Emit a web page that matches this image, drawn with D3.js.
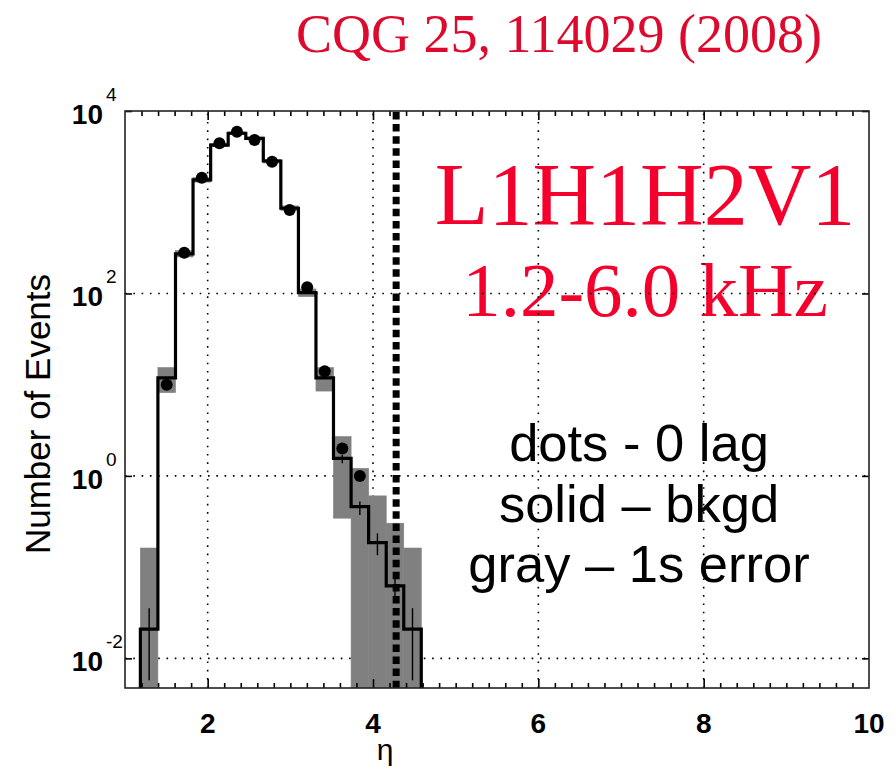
<!DOCTYPE html>
<html>
<head>
<meta charset="utf-8">
<script src="https://cdn.jsdelivr.net/npm/d3@7"></script>
<style>
    body { margin: 0; background: #fff; }
    svg { display: block; }
</style>
</head>
<body>
<div id="chart"></div>
<script>
// bin edges in eta (16 bins)
const binEdges = [1.186, 1.398, 1.611, 1.823, 2.036, 2.248, 2.461, 2.673, 2.885,
    3.098, 3.310, 3.522, 3.735, 3.947, 4.160, 4.372, 4.584];
// background estimate (solid line), events per bin
const background = [0.0209, 11.9, 271, 1754, 4236, 5702, 5023, 2831, 859, 102,
    11.9, 1.56, 0.461, 0.186, 0.0624, 0.0209];
// gray band: 1 sigma range of the background (0 = below the axis)
const bandLow = [0, 8.18, 251, 1660, 4074, 5495, 4842, 2692, 813, 92.3,
    8.51, 0.344, 0, 0, 0, 0];
const bandHigh = [0.162, 15.4, 295, 1862, 4416, 5888, 5188, 2951, 912, 112,
    15.4, 2.70, 1.21, 0.604, 0.303, 0.162];
// thin error bars on the background
const errLow = [0.00575, null, null, null, null, null, null, null, null, null,
    null, 1.38, 0.372, 0.135, 0.0479, 0.00575];
const errHigh = [0.0355, null, null, null, null, null, null, null, null, null,
    null, 1.70, 0.525, 0.234, 0.0794, 0.0355];
// zero lag events (dots)
const zeroLag = [null, 10, 280, 1860, 4430, 5930, 4810, 2780, 822, 117,
    14, 2, 1, null, null, null];
// threshold (dashed line)
const threshold = 4.28;

const xTicks = [2, 4, 6, 8, 10];
const yTicks = [1e-2, 1e0, 1e2, 1e4];
const yExponents = ['-2', '0', '2', '4'];

class EtaHistogram {
    constructor(element) {
        this.MARGIN = { TOP: 111, BOTTOM: 82, LEFT: 125, RIGHT: 27 };
        this.WIDTH = 896 - this.MARGIN.LEFT - this.MARGIN.RIGHT;
        this.HEIGHT = 770 - this.MARGIN.TOP - this.MARGIN.BOTTOM;

        this.root = d3.select(element)
            .append('svg')
            .attr('width', 896)
            .attr('height', 770);

        this.svg = this.root.append('g')
            .attr('transform', `translate(${this.MARGIN.LEFT}, ${this.MARGIN.TOP})`);

        this.x = d3.scaleLinear().domain([1, 10]).range([0, this.WIDTH]);
        this.y = d3.scaleLog().domain([Math.pow(10, -2.325), 1e4]).range([this.HEIGHT, 0]);

        this.svg.append('clipPath')
            .attr('id', 'plot-clip')
            .append('rect')
            .attr('width', this.WIDTH)
            .attr('height', this.HEIGHT);

        this.draw();
    }

    draw() {
        const x = this.x, y = this.y;
        const W = this.WIDTH, H = this.HEIGHT;
        const ymin = y.domain()[0];
        const yc = v => y(Math.max(v, ymin));
        const bins = d3.range(background.length);

        // title above the plot
        this.root.append('text')
            .attr('x', 559)
            .attr('y', 52)
            .attr('text-anchor', 'middle')
            .attr('fill', '#dd0a2e')
            .style('font-family', '"Liberation Serif", serif')
            .style('font-size', '54px')
            .text('CQG 25, 114029 (2008)');

        // annotation text inside the axes (grid dots sit on top of it)
        const notes = this.svg.append('g');
        notes.append('text')
            .attr('x', 520).attr('y', 113)
            .attr('text-anchor', 'middle')
            .attr('fill', '#f5002d')
            .style('font-family', '"Liberation Serif", serif')
            .style('font-size', '88px')
            .text('L1H1H2V1');
        notes.append('text')
            .attr('x', 520).attr('y', 205)
            .attr('text-anchor', 'middle')
            .attr('fill', '#f5002d')
            .style('font-family', '"Liberation Serif", serif')
            .style('font-size', '77px')
            .text('1.2-6.0 kHz');

        const legend = ['dots - 0 lag', 'solid \u2013 bkgd', 'gray \u2013 1s error'];
        notes.selectAll('text.legend')
            .data(legend)
            .enter()
            .append('text')
            .attr('class', 'legend')
            .attr('x', 514)
            .attr('y', (d, i) => 350 + i * 60.5)
            .attr('text-anchor', 'middle')
            .attr('fill', '#000')
            .style('font-family', '"Liberation Sans", Arial, sans-serif')
            .style('font-size', '52.5px')
            .text(d => d);

        // dotted grid
        const grid = this.svg.append('g')
            .attr('stroke', '#000')
            .attr('stroke-width', 1.6)
            .attr('stroke-dasharray', '1.6 6.7');
        grid.selectAll('line.vgrid')
            .data([2, 4, 6, 8])
            .enter().append('line')
            .attr('x1', d => x(d)).attr('x2', d => x(d))
            .attr('y1', H).attr('y2', 0);
        grid.selectAll('line.hgrid')
            .data([1e-2, 1, 1e2])
            .enter().append('line')
            .attr('x1', 0).attr('x2', W)
            .attr('y1', d => y(d)).attr('y2', d => y(d));

        const plot = this.svg.append('g').attr('clip-path', 'url(#plot-clip)');

        // gray 1 sigma band
        plot.selectAll('rect.band')
            .data(bins)
            .enter()
            .append('rect')
            .attr('class', 'band')
            .attr('x', i => x(binEdges[i]))
            .attr('width', i => x(binEdges[i + 1]) - x(binEdges[i]))
            .attr('y', i => yc(bandHigh[i]))
            .attr('height', i => yc(bandLow[i]) - yc(bandHigh[i]))
            .attr('fill', '#808080')
            .attr('stroke', '#808080')
            .attr('stroke-width', 0.6);

        // error bars
        plot.selectAll('line.err')
            .data(bins.filter(i => errLow[i] !== null))
            .enter()
            .append('line')
            .attr('class', 'err')
            .attr('x1', i => x((binEdges[i] + binEdges[i + 1]) / 2))
            .attr('x2', i => x((binEdges[i] + binEdges[i + 1]) / 2))
            .attr('y1', i => yc(errLow[i]))
            .attr('y2', i => yc(errHigh[i]))
            .attr('stroke', '#000')
            .attr('stroke-width', 1.4);

        // background histogram (step line)
        const pts = [[binEdges[0], ymin]];
        bins.forEach(i => pts.push([binEdges[i], background[i]]));
        pts.push([binEdges[binEdges.length - 1], background[background.length - 1]]);
        pts.push([binEdges[binEdges.length - 1], ymin]);

        const step = d3.line()
            .x(d => x(d[0]))
            .y(d => yc(d[1]))
            .curve(d3.curveStepAfter);

        plot.append('path')
            .datum(pts)
            .attr('d', step)
            .attr('fill', 'none')
            .attr('stroke', '#000')
            .attr('stroke-width', 3.2);

        // zero lag dots
        plot.selectAll('circle.zerolag')
            .data(bins.filter(i => zeroLag[i] !== null))
            .enter()
            .append('circle')
            .attr('class', 'zerolag')
            .attr('cx', i => x((binEdges[i] + binEdges[i + 1]) / 2))
            .attr('cy', i => y(zeroLag[i]))
            .attr('r', 6)
            .attr('fill', '#000');

        // threshold
        plot.append('line')
            .attr('x1', x(threshold)).attr('x2', x(threshold))
            .attr('y1', 1).attr('y2', H)
            .attr('stroke', '#000')
            .attr('stroke-width', 7)
            .attr('stroke-dasharray', '7.5 4.6');

        // frame + ticks
        const minor = d3.range(6, 50).map(d => d / 5).filter(d => d % 2 !== 0);
        const axisStyle = g => {
            g.select('.domain').remove();
            g.selectAll('.tick line').attr('stroke', '#000').attr('stroke-width', 1.6);
            g.selectAll('.tick text').remove();
        };

        this.svg.append('g')
            .attr('transform', `translate(0, ${H})`)
            .call(d3.axisBottom(x).tickValues(minor).tickSize(-5))
            .call(axisStyle);
        this.svg.append('g')
            .attr('transform', `translate(0, ${H})`)
            .call(d3.axisBottom(x).tickValues([2, 4, 6, 8]).tickSize(-9))
            .call(axisStyle);
        this.svg.append('g')
            .call(d3.axisTop(x).tickValues(minor).tickSize(-5))
            .call(axisStyle);
        this.svg.append('g')
            .call(d3.axisTop(x).tickValues([2, 4, 6, 8]).tickSize(-9))
            .call(axisStyle);
        this.svg.append('g')
            .call(d3.axisLeft(y).tickValues(yTicks).tickSize(-7))
            .call(axisStyle);
        this.svg.append('g')
            .attr('transform', `translate(${W}, 0)`)
            .call(d3.axisRight(y).tickValues(yTicks).tickSize(-7))
            .call(axisStyle);

        this.svg.append('rect')
            .attr('width', W)
            .attr('height', H)
            .attr('fill', 'none')
            .attr('stroke', '#222')
            .attr('stroke-width', 1.6);

        // tick labels
        const font = '"Liberation Sans", Arial, sans-serif';
        this.svg.selectAll('text.xlab')
            .data(xTicks)
            .enter()
            .append('text')
            .attr('class', 'xlab')
            .attr('x', d => x(d))
            .attr('y', H + 45)
            .attr('text-anchor', 'middle')
            .style('font-family', font)
            .style('font-size', '28px')
            .style('font-weight', 'bold')
            .text(d => d);

        const ylab = this.svg.selectAll('g.ylab')
            .data(yTicks)
            .enter()
            .append('g')
            .attr('class', 'ylab')
            .attr('transform', d => `translate(0, ${y(d)})`);
        ylab.append('text')
            .attr('x', -22)
            .attr('y', 13)
            .attr('text-anchor', 'end')
            .style('font-family', font)
            .style('font-size', '28px')
            .style('font-weight', 'bold')
            .text('10');
        ylab.append('text')
            .attr('x', -19)
            .attr('y', -10)
            .style('font-family', font)
            .style('font-size', '19px')
            .text((d, i) => yExponents[i]);

        // axis titles
        this.svg.append('text')
            .attr('x', 260)
            .attr('y', H + 72)
            .attr('text-anchor', 'middle')
            .style('font-family', font)
            .style('font-size', '30px')
            .text('\u03b7');

        this.svg.append('text')
            .attr('transform', 'rotate(-90)')
            .attr('x', -(414 - this.MARGIN.TOP))
            .attr('y', -75)
            .attr('text-anchor', 'middle')
            .style('font-family', font)
            .style('font-size', '35px')
            .text('Number of Events');
    }
}

new EtaHistogram('#chart');
</script>
</body>
</html>
